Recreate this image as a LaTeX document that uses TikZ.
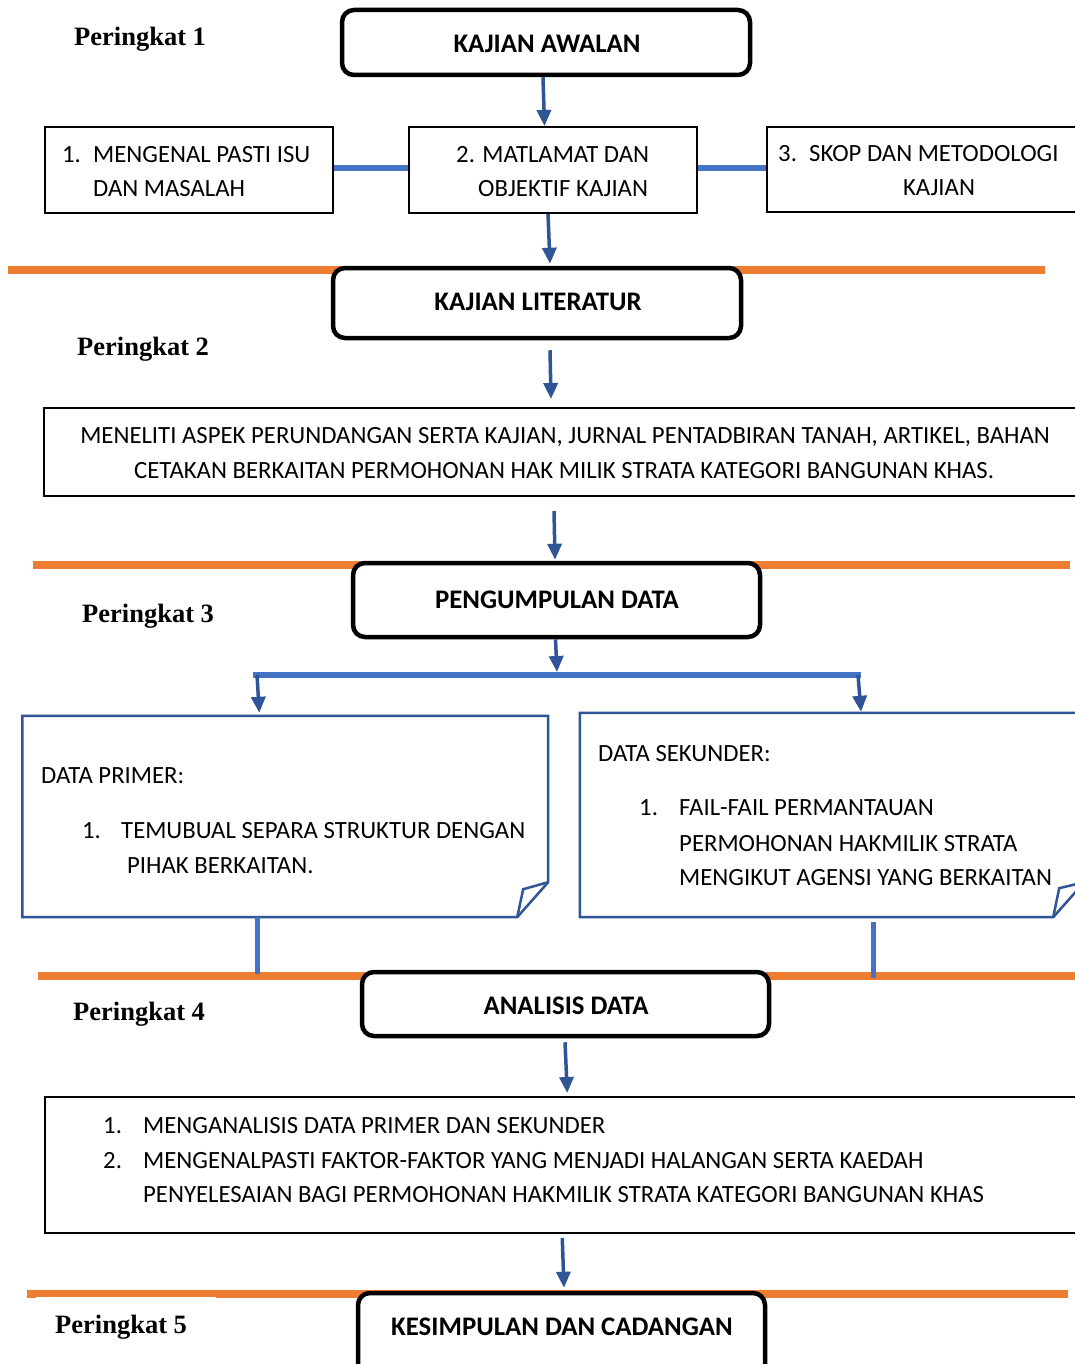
\documentclass[tikz,border=0pt]{standalone}
\usepackage{fontspec}
\setmainfont{Carlito}
\newfontfamily\perfont{Liberation Serif}
\usetikzlibrary{arrows.meta}
\definecolor{orangeL}{RGB}{237,125,49}
\definecolor{blueA}{RGB}{47,85,151}
\definecolor{blueL}{RGB}{68,114,196}
\begin{document}
\begin{tikzpicture}[x=1pt,y=-1pt,
 stagebox/.style={draw=black, fill=white, line width=4.5pt, rounded corners=12pt, inner sep=0pt},
 plainbox/.style={draw=black, fill=white, line width=2pt, inner sep=0pt},
 holder/.style={inner sep=0pt},
 foldline/.style={draw=blueA, line width=2.5pt, line join=miter},
 txt/.style={anchor=base west, inner sep=0pt, font=\fontsize{24.75}{30}\selectfont},
 ctxt/.style={anchor=base, inner sep=0pt, font=\fontsize{24.75}{30}\selectfont},
 ttl/.style={anchor=base, inner sep=0pt, font=\fontsize{26.8}{30}\selectfont\bfseries},
 lvl/.style={anchor=base west, inner sep=0pt, font=\perfont\fontsize{26.5}{30}\selectfont\bfseries},
 arr/.style={draw=blueA, line width=3.5pt, -{Triangle[length=16pt,width=14pt]}},
 link/.style={draw=blueL, line width=6pt},
 band/.style={draw=orangeL, line width=8.5pt},
]
\useasboundingbox (0,0) rectangle (1075,1364);
\fill[white] (0,0) rectangle (1075,1364);

% orange stage bands
\draw[band] (8,270) -- (1045,270);
\draw[band] (33,565) -- (1070,565);
\draw[band] (38,976) -- (1085,976);
\draw[band] (27,1294) -- (1068,1294);
\fill[white] (36,1297) rectangle (216,1300);

% level labels
\node[lvl] (p1) at (74,46) {Peringkat 1};
\node[lvl] (p2) at (77,355) {Peringkat 2};
\node[lvl] (p3) at (82,622) {Peringkat 3};
\node[lvl] (p4) at (73,1020) {Peringkat 4};
\node[lvl] (p5) at (55,1333) {Peringkat 5};

% stage 1
\node[stagebox, minimum width=408pt, minimum height=65pt] (aw) at (546,42.5) {};
\node[ttl] (awt) at (547,53) {KAJIAN AWALAN};
\node[plainbox, minimum width=288.5pt, minimum height=86pt] (b1) at (188.75,170) {};
\node[plainbox, minimum width=288pt, minimum height=86pt] (b2) at (553,170) {};
\node[plainbox, minimum width=328pt, minimum height=85pt] (b3) at (931,169.5) {};
\node[txt] (b1n) at (62,163) {1.};
\node[txt] (b1a) at (93,163) {MENGENAL PASTI ISU};
\node[txt] (b1b) at (93,197) {DAN MASALAH};
\node[txt] (b2a) at (456,163) {2. MATLAMAT DAN};
\node[txt] (b2b) at (478,197) {OBJEKTIF KAJIAN};
\node[txt] (b3n) at (778,162) {3.};
\node[txt] (b3a) at (809,162) {SKOP DAN METODOLOGI};
\node[ctxt] (b3b) at (939,196) {KAJIAN};
\draw[link] ([yshift=2pt]b1.east) -- ([yshift=2pt]b2.west);
\draw[link] ([yshift=2pt]b2.east) -- ([yshift=1.5pt]b3.west);
\draw[arr] ([xshift=-3pt]aw.south) -- ([xshift=-8.5pt]b2.north);

% stage 2
\node[stagebox, minimum width=408pt, minimum height=70pt] (kl) at (537,303) {};
\node[ttl] (klt) at (538,310) {KAJIAN LITERATUR};
\draw[arr] ([xshift=-5pt]b2.south) -- ([xshift=13pt,yshift=2pt]kl.north);
\node[plainbox, minimum width=1046pt, minimum height=88pt] (big2) at (567,452) {};
\node[ctxt] (big2a) at (565,443) {MENELITI ASPEK PERUNDANGAN SERTA KAJIAN, JURNAL PENTADBIRAN TANAH, ARTIKEL, BAHAN};
\node[ctxt] (big2b) at (564,478) {CETAKAN BERKAITAN PERMOHONAN HAK MILIK STRATA KATEGORI BANGUNAN KHAS.};
\draw[arr] ([xshift=13pt,yshift=-10pt]kl.south) -- ([xshift=-16pt,yshift=8pt]big2.north);

% stage 3
\node[stagebox, minimum width=407pt, minimum height=74pt] (pd) at (556.5,600) {};
\node[ttl] (pdt) at (557,608) {PENGUMPULAN DATA};
\draw[arr] ([xshift=-13pt,yshift=-14pt]big2.south) -- ([xshift=-1.5pt,yshift=1pt]pd.north);
\coordinate (bl) at (257,675);
\coordinate (bm) at (557,675);
\coordinate (brr) at (858,675);
\draw[link, line width=5.5pt] ([xshift=-4pt]bl) -- ([xshift=3pt]brr);
\draw[arr] ([xshift=-1pt]pd.south) -- ([yshift=3pt]bm);

\node[holder, minimum width=525.4pt, minimum height=201pt] (dp) at (285.3,816.5) {};
\draw[foldline] (dp.north west) -- (dp.north east) -- ([yshift=35pt]dp.south east)
  -- ([xshift=-31pt]dp.south east) -- (dp.south west) -- cycle;
\draw[foldline] ([yshift=35pt]dp.south east) -- ([xshift=-25pt,yshift=28pt]dp.south east) -- ([xshift=-31pt]dp.south east);
\node[holder, minimum width=504pt, minimum height=204pt] (ds) at (832,815) {};
\draw[foldline] (ds.north west) -- (ds.north east) -- ([yshift=35pt]ds.south east)
  -- ([xshift=-31pt]ds.south east) -- (ds.south west) -- cycle;
\draw[foldline] ([yshift=35pt]ds.south east) -- ([xshift=-25pt,yshift=29pt]ds.south east) -- ([xshift=-31pt]ds.south east);
\draw[arr] (bl) -- ([xshift=-26pt,yshift=3pt]dp.north);
\draw[arr] (brr) -- ([xshift=29pt,yshift=1pt]ds.north);

\node[txt] (dpt) at (41,783) {DATA PRIMER:};
\node[txt] (dpn) at (82,838) {1.};
\node[txt] (dpa) at (121,838) {TEMUBUAL SEPARA STRUKTUR DENGAN};
\node[txt] (dpb) at (127,873) {PIHAK BERKAITAN.};
\node[txt] (dst) at (598,761) {DATA SEKUNDER:};
\node[txt] (dsn) at (639,815) {1.};
\node[txt] (dsa) at (679,815) {FAIL-FAIL PERMANTAUAN};
\node[txt] (dsb) at (679,851) {PERMOHONAN HAKMILIK STRATA};
\node[txt] (dsc) at (679,885) {MENGIKUT AGENSI YANG BERKAITAN};

% stage 4
\coordinate (e1) at (257,974);
\coordinate (e2) at (873,978);
\draw[link, line width=5pt] ([xshift=-28.3pt]dp.south) -- (e1);
\draw[link, line width=5pt] ([xshift=41pt,yshift=-5pt]ds.south) -- (e2);
\node[stagebox, minimum width=407pt, minimum height=64pt] (an) at (565.5,1004) {};
\node[ttl] (ant) at (566,1014) {ANALISIS DATA};
\node[plainbox, minimum width=1045.5pt, minimum height=136pt] (b4) at (567.25,1165) {};
\draw[arr] ([xshift=-0.5pt,yshift=-4pt]an.south) -- ([yshift=3pt]b4.north);
\node[txt] (b4n1) at (103,1133) {1.};
\node[txt] (b4a) at (143,1133) {MENGANALISIS DATA PRIMER DAN SEKUNDER};
\node[txt] (b4n2) at (103,1168) {2.};
\node[txt] (b4b) at (143,1168) {MENGENALPASTI FAKTOR-FAKTOR YANG MENJADI HALANGAN SERTA KAEDAH};
\node[txt] (b4c) at (143,1202) {PENYELESAIAN BAGI PERMOHONAN HAKMILIK STRATA KATEGORI BANGUNAN KHAS};

% stage 5
\node[stagebox, minimum width=407pt, minimum height=84pt] (ks) at (561.5,1335) {};
\node[ttl] (kst) at (562,1335) {KESIMPULAN DAN CADANGAN};
\draw[arr] ([xshift=-5pt,yshift=-4pt]b4.south) -- ([xshift=2.5pt,yshift=3pt]ks.north);
\end{tikzpicture}
\end{document}
